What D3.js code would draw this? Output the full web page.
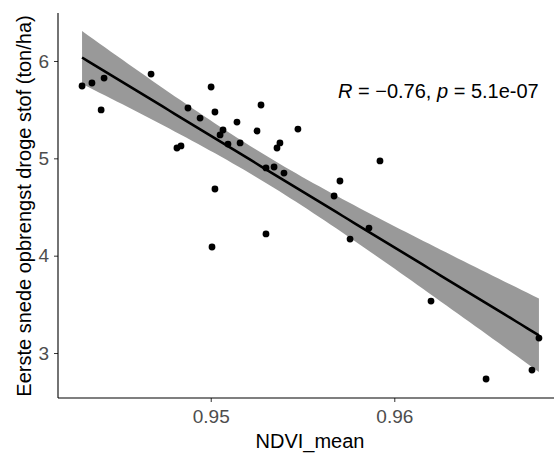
<!DOCTYPE html>
<html>
<head>
<meta charset="utf-8">
<script src="https://cdn.jsdelivr.net/npm/d3@7"></script>
<style>
  body { margin: 0; background: #fff; }
  svg { display: block; font-family: "Liberation Sans", Arial, sans-serif; }
</style>
</head>
<body>
<svg id="chart" width="554" height="459"></svg>
<script>
// values
var ndviMean = [0.94299, 0.94353, 0.94419, 0.94403, 0.94675, 0.95002, 0.94876, 0.95023,
  0.94942, 0.95143, 0.95067, 0.95051, 0.95094, 0.94816, 0.94838, 0.95160, 0.95274, 0.95252,
  0.95475, 0.95377, 0.95361, 0.95301, 0.95345, 0.95399, 0.95023, 0.95007, 0.95301, 0.95759,
  0.95922, 0.95704, 0.95672, 0.95862, 0.96200, 0.96788, 0.96750, 0.96500];
var yieldDs = [5.743, 5.774, 5.825, 5.497, 5.866, 5.733, 5.517, 5.476,
  5.414, 5.373, 5.291, 5.240, 5.147, 5.106, 5.127, 5.158, 5.548, 5.281,
  5.301, 5.158, 5.106, 4.901, 4.911, 4.849, 4.685, 4.089, 4.223, 4.171,
  4.973, 4.767, 4.613, 4.284, 3.534, 3.154, 2.825, 2.733];
var xTicks = [0.95, 0.96];
var yTicks = [3, 4, 5, 6];
var corR = "\u22120.76";
var corP = "5.1e-07";

var svg = d3.select('#chart');
var panel = {left: 58, right: 554, top: 13, bottom: 398};

var x = d3.scaleLinear().domain([0.94168, 0.96870]).range([panel.left, panel.right]);
var y = d3.scaleLinear().domain([2.538, 6.493]).range([panel.bottom, panel.top]);

// linear fit + 95% confidence band (like geom_smooth(method = "lm"))
var n = ndviMean.length;
var xbar = d3.mean(ndviMean), ybar = d3.mean(yieldDs);
var sxx = d3.sum(ndviMean, function(d){ return (d - xbar) * (d - xbar); });
var sxy = d3.sum(ndviMean, function(d, i){ return (d - xbar) * (yieldDs[i] - ybar); });
var slope = sxy / sxx, icpt = ybar - slope * xbar;
var sse = d3.sum(ndviMean, function(d, i){ var e = yieldDs[i] - (icpt + slope * d); return e * e; });
var sigma = Math.sqrt(sse / (n - 2));
var tq = 2.032; // qt(0.975, 34)

var lo = d3.min(ndviMean), hi = d3.max(ndviMean);
var xs = d3.range(80).map(function(i){ return lo + (hi - lo) * i / 79; });
var fit = xs.map(function(v){
  var yh = icpt + slope * v;
  var se = sigma * Math.sqrt(1 / n + (v - xbar) * (v - xbar) / sxx);
  return {x: v, y: yh, lo: yh - tq * se, hi: yh + tq * se};
});

svg.append('path')
  .datum(fit)
  .attr('fill', '#999999')
  .attr('d', d3.area()
    .x(function(d){ return x(d.x); })
    .y0(function(d){ return y(d.lo); })
    .y1(function(d){ return y(d.hi); }));

svg.append('g').selectAll('circle')
  .data(ndviMean)
  .enter().append('circle')
  .attr('cx', function(d){ return x(d); })
  .attr('cy', function(d, i){ return y(yieldDs[i]); })
  .attr('r', 3.4)
  .attr('fill', '#000');

svg.append('path')
  .datum(fit)
  .attr('fill', 'none')
  .attr('stroke', '#000')
  .attr('stroke-width', 2.6)
  .attr('d', d3.line()
    .x(function(d){ return x(d.x); })
    .y(function(d){ return y(d.y); }));

// axes (theme_classic style)
var xAxis = svg.append('g')
  .attr('transform', 'translate(0,' + panel.bottom + ')')
  .call(d3.axisBottom(x).tickValues(xTicks).tickFormat(d3.format('.2f')).tickSize(4).tickPadding(8));
var yAxis = svg.append('g')
  .attr('transform', 'translate(' + panel.left + ',0)')
  .call(d3.axisLeft(y).tickValues(yTicks).tickFormat(d3.format('d')).tickSize(4).tickPadding(5));

[xAxis, yAxis].forEach(function(g){
  g.select('.domain').remove();
  g.selectAll('.tick line').attr('stroke', '#333');
  g.selectAll('.tick text')
    .attr('fill', '#4d4d4d')
    .style('font-size', '19px')
    .style('font-family', '"Liberation Sans", Arial, sans-serif');
});

svg.append('line')
  .attr('x1', panel.left).attr('x2', panel.right)
  .attr('y1', panel.bottom).attr('y2', panel.bottom)
  .attr('stroke', '#000').attr('stroke-width', 1.1);
svg.append('line')
  .attr('x1', panel.left).attr('x2', panel.left)
  .attr('y1', panel.top).attr('y2', panel.bottom)
  .attr('stroke', '#000').attr('stroke-width', 1.1);

svg.append('text')
  .attr('x', 310)
  .attr('y', 448)
  .attr('text-anchor', 'middle')
  .style('font-size', '20px')
  .text('NDVI_mean');

svg.append('text')
  .attr('transform', 'translate(24,206) rotate(-90)')
  .attr('text-anchor', 'middle')
  .attr('dy', '0.35em')
  .style('font-size', '20px')
  .text('Eerste snede opbrengst droge stof (ton/ha)');

var cor = svg.append('text')
  .attr('x', 338)
  .attr('y', 98)
  .style('font-size', '20px');
cor.append('tspan').style('font-style', 'italic').text('R');
cor.append('tspan').text(' = ' + corR + ', ');
cor.append('tspan').style('font-style', 'italic').text('p');
cor.append('tspan').text(' = ' + corP);
</script>
</body>
</html>
